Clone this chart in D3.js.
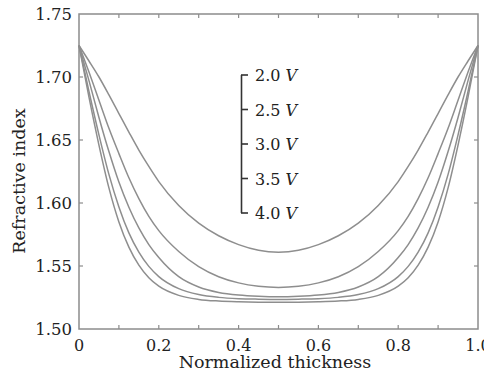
<!DOCTYPE html>
<html><head><meta charset="utf-8">
<script src="https://cdn.jsdelivr.net/npm/d3@7/dist/d3.min.js"></script>
<style>body{margin:0;background:#fff}svg{display:block}</style>
</head><body>
<svg id="c" width="484" height="379"></svg>
<script>
const xs = [0,0.025,0.05,0.075,0.1,0.125,0.15,0.175,0.2,0.25,0.3,0.35,0.4,0.45,0.5,0.55,0.6,0.65,0.7,0.75,0.8,0.825,0.85,0.875,0.9,0.925,0.95,0.975,1.0];
const seriesNames = ["2.0","2.5","3.0","3.5","4.0"];
const v20 = [1.725,1.7127,1.700,1.6858,1.671,1.6563,1.642,1.629,1.617,1.598,1.584,1.574,1.567,1.5625,1.561,1.5625,1.567,1.574,1.584,1.598,1.617,1.629,1.642,1.6563,1.671,1.6858,1.700,1.7127,1.725];
const v25 = [1.725,1.7039,1.6816,1.6593,1.6392,1.620,1.6035,1.5894,1.5781,1.5615,1.5495,1.5415,1.5366,1.5339,1.533,1.5339,1.5366,1.5415,1.5495,1.5615,1.5781,1.5894,1.6035,1.620,1.6392,1.6593,1.6816,1.7039,1.725];
const v30 = [1.725,1.6971,1.6679,1.6408,1.6166,1.5966,1.5802,1.567,1.5567,1.5415,1.5333,1.529,1.5269,1.5259,1.5255,1.5259,1.5269,1.529,1.5333,1.5415,1.5567,1.567,1.5802,1.5966,1.6166,1.6408,1.6679,1.6971,1.725];
const v35 = [1.725,1.6885,1.6541,1.6227,1.5969,1.5763,1.561,1.5497,1.5416,1.532,1.5273,1.5251,1.5241,1.5237,1.5235,1.5237,1.5241,1.5251,1.5273,1.532,1.5416,1.5497,1.561,1.5763,1.5969,1.6227,1.6541,1.6885,1.725];
const v40 = [1.725,1.684,1.646,1.612,1.585,1.565,1.5507,1.5407,1.534,1.5267,1.5235,1.5222,1.5216,1.5213,1.5212,1.5213,1.5216,1.5222,1.5235,1.5267,1.534,1.5407,1.5507,1.565,1.585,1.612,1.646,1.684,1.725];
const xTickLabels = ["0","0.2","0.4","0.6","0.8","1.0"];
const yTickLabels = ["1.50","1.55","1.60","1.65","1.70","1.75"];
const series = [v20,v25,v30,v35,v40];

const svg = d3.select("#c");
const L=79,R=478,T=14,B=329;
const x = d3.scaleLinear().domain([0,1]).range([L,R]);
const y = d3.scaleLinear().domain([1.5,1.75]).range([B,T]);
const font = "'DejaVu Serif', serif";
const axisCol = "#8c8c8c";

// curves
const line = d3.line().x((d,i)=>x(xs[i])).y(d=>y(d)).curve(d3.curveMonotoneX);
svg.append("g").selectAll("path").data(series).join("path")
  .attr("d", d=>line(d)).attr("fill","none").attr("stroke","#8e8e8e").attr("stroke-width",1.5);

// frame
svg.append("rect").attr("x",L).attr("y",T).attr("width",R-L).attr("height",B-T)
  .attr("fill","none").attr("stroke",axisCol).attr("stroke-width",1.5);

// ticks
const tl = 4;
const xt = d3.range(0,1.0001,0.1);
const yt = d3.range(1.5,1.7501,0.05);
const g = svg.append("g").attr("stroke",axisCol).attr("stroke-width",1.2);
xt.slice(1,-1).forEach(t=>{
  g.append("line").attr("x1",x(t)).attr("x2",x(t)).attr("y1",B).attr("y2",B-tl);
  g.append("line").attr("x1",x(t)).attr("x2",x(t)).attr("y1",T).attr("y2",T+tl);
});
yt.slice(1,-1).forEach(t=>{
  g.append("line").attr("y1",y(t)).attr("y2",y(t)).attr("x1",L).attr("x2",L+tl);
  g.append("line").attr("y1",y(t)).attr("y2",y(t)).attr("x1",R).attr("x2",R-tl);
});

// tick labels
xTickLabels.forEach((s,i)=>{
  svg.append("text").attr("x",x(i*0.2)).attr("y",351).attr("text-anchor","middle")
    .attr("font-family",font).attr("font-size",16).attr("fill","#222").text(s);
});
yTickLabels.forEach((s,i)=>{
  svg.append("text").attr("x",72).attr("y",y(1.5+i*0.05)+6).attr("text-anchor","end")
    .attr("font-family",font).attr("font-size",16.5).attr("fill","#222").text(s);
});

// axis titles
svg.append("text").attr("x",275).attr("y",368).attr("text-anchor","middle")
  .attr("font-family",font).attr("font-size",17.5).attr("fill","#222").text("Normalized thickness");
svg.append("text").attr("transform","translate(25,181) rotate(-90)").attr("text-anchor","middle")
  .attr("font-family",font).attr("font-size",17.5).attr("fill","#222").text("Refractive index");

// legend
const ly = d3.scalePoint().domain(seriesNames).range([75,213]);
const lg = svg.append("g");
lg.append("line").attr("x1",241.5).attr("x2",241.5).attr("y1",ly("2.0")).attr("y2",ly("4.0"))
  .attr("stroke","#333").attr("stroke-width",1.6);
seriesNames.forEach(n=>{
  lg.append("line").attr("x1",241).attr("x2",248).attr("y1",ly(n)).attr("y2",ly(n))
    .attr("stroke","#333").attr("stroke-width",1.6);
  const t = lg.append("text").attr("x",255).attr("y",ly(n)+6)
    .attr("font-family",font).attr("font-size",16).attr("fill","#222");
  t.append("tspan").text(n+" ");
  t.append("tspan").attr("font-style","italic").text("V");
});
</script>
</body></html>
